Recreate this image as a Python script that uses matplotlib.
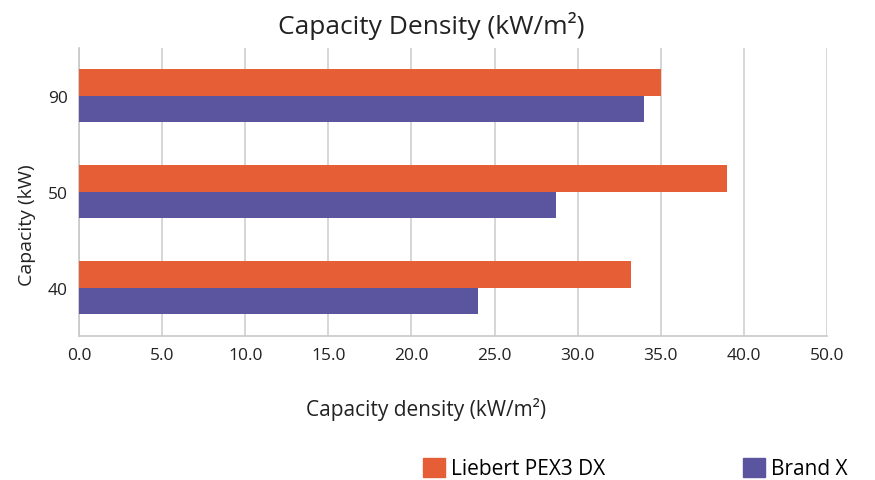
import numpy as np
import matplotlib
matplotlib.use("Agg")
import matplotlib.pyplot as plt
from matplotlib.patches import Rectangle

categories = ["40", "50", "90"]
liebert = [33.2, 39.0, 35.0]
brand_x = [24.0, 28.7, 34.0]
series_names = ["Liebert PEX3 DX", "Brand X"]
xtick_labels = ["0.0", "5.0", "10.0", "15.0", "20.0", "25.0", "30.0", "35.0", "40.0", "50.0"]

orange = "#E55E35"
purple = "#5B559F"
font = "Open Sans"
txt = "#222222"

fig = plt.figure(figsize=(8.75, 4.81), dpi=100)
ax = fig.add_axes([0.0903, 0.300, 0.8549, 0.5988])

y = np.arange(len(categories))
h = 0.278
ax.barh(y + h / 2, liebert, height=h, color=orange, label=series_names[0], zorder=3)
ax.barh(y - h / 2, brand_x, height=h, color=purple, label=series_names[1], zorder=3)

xt = np.arange(len(xtick_labels)) * 5
ax.set_xlim(0, xt[-1])
ax.set_ylim(-0.5, len(categories) - 0.5)
ax.set_xticks(xt)
ax.set_xticklabels(xtick_labels, fontfamily=font, fontsize=12.5, color=txt)
ax.set_yticks(y)
ax.set_yticklabels(categories, fontfamily=font, fontsize=12.5, color=txt)
ax.tick_params(axis="both", length=0, pad=8)
ax.grid(axis="x", color="#D0D0D0", linewidth=1.2, zorder=0)
for s in ["top", "right"]:
    ax.spines[s].set_visible(False)
for s in ["left", "bottom"]:
    ax.spines[s].set_color("#C8C8C8")
    ax.spines[s].set_linewidth(1.2)

ax.set_xlabel("Capacity density (kW/m²)", fontfamily=font, fontsize=15, color=txt)
ax.xaxis.set_label_coords(0.464, -0.212)
ax.set_ylabel("Capacity (kW)", fontfamily=font, fontsize=14, color=txt)
ax.yaxis.set_label_coords(-0.058, 0.388)

fig.text(0.493, 0.946, "Capacity Density (kW/m²)", ha="center", va="center",
         fontfamily=font, fontsize=19, color=txt)

handles = [Rectangle((0, 0), 1, 1, color=orange), Rectangle((0, 0), 1, 1, color=purple)]
for hd, name, xa in [(handles[0], series_names[0], 0.483), (handles[1], series_names[1], 0.849)]:
    lg = fig.legend([hd], [name], loc="center left", bbox_to_anchor=(xa, 0.024),
                    frameon=False, prop={"family": font, "size": 15}, handlelength=1.05,
                    handleheight=1.05, handletextpad=0.3, borderaxespad=0, borderpad=0)

fig.savefig("out.png", dpi=100)
